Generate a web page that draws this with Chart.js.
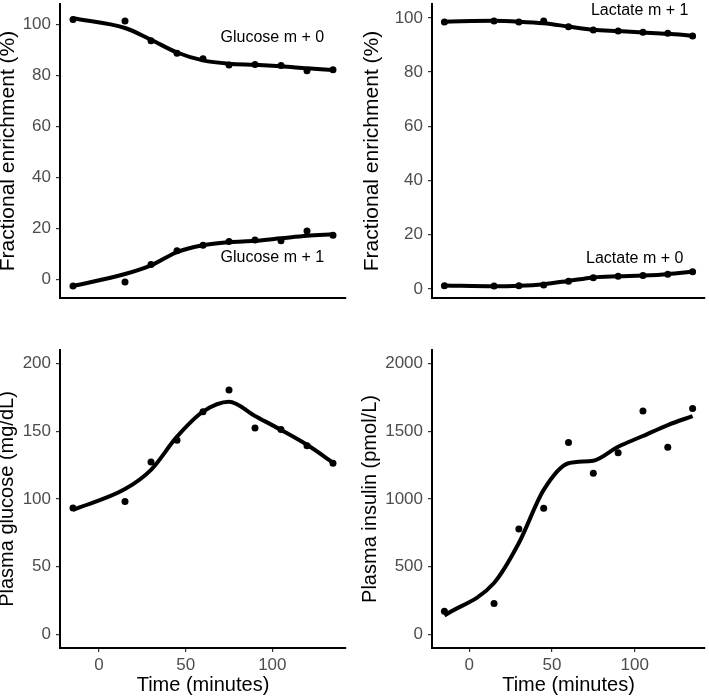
<!DOCTYPE html>
<html>
<head>
<meta charset="utf-8">
<script src="https://cdn.jsdelivr.net/npm/chart.js@4.4.1/dist/chart.umd.min.js"></script>
<style>
  html, body { margin: 0; padding: 0; background: #fff; }
  body { width: 709px; height: 696px; position: relative; overflow: hidden; }
  canvas { position: absolute; }
</style>
</head>
<body>
<canvas id="glucose-fe" width="355" height="330" style="left:0;top:0"></canvas>
<canvas id="lactate-fe" width="354" height="330" style="left:355px;top:0"></canvas>
<canvas id="plasma-glucose" width="355" height="366" style="left:0;top:330px"></canvas>
<canvas id="plasma-insulin" width="354" height="366" style="left:355px;top:330px"></canvas>
<script>
// sampling times (minutes)
const timeMin = [-15, 15, 30, 45, 60, 75, 90, 105, 120, 135];
const xTicks = [0, 50, 100];

// fractional enrichment (%), measured points and smooth fit
const glucoseM0 = [101.9, 101.3, 93.6, 88.7, 86.5, 84.1, 84.3, 83.9, 81.8, 82.2];
const glucoseM0Fit = [102.4, 98.6, 94.0, 89.0, 85.9, 84.6, 84.2, 83.6, 82.8, 82.1];
const glucoseM1 = [-2.5, -0.9, 5.9, 11.3, 13.5, 14.9, 15.5, 15.2, 19.1, 17.4];
const glucoseM1Fit = [-2.5, 2.2, 5.6, 10.8, 13.5, 14.7, 15.2, 16.2, 17.2, 17.8];
const lactateM1 = [98.5, 98.8, 98.5, 98.8, 96.7, 95.5, 95.1, 94.7, 94.3, 93.3];
const lactateM1Fit = [98.6, 98.9, 98.6, 98.0, 96.8, 95.6, 95.1, 94.6, 94.1, 93.4];
const lactateM0 = [1.2, 1.1, 1.2, 1.5, 2.9, 4.2, 4.7, 5.0, 5.5, 6.4];
const lactateM0Fit = [1.3, 1.0, 1.2, 1.8, 3.0, 4.3, 4.7, 5.0, 5.5, 6.4];
const enrichTicks = [0, 20, 40, 60, 80, 100];

// plasma glucose (mg/dL)
const plasmaGlucose = [93.3, 98.2, 127.4, 143.3, 164.5, 180.4, 152.4, 151.4, 139.4, 126.4];
const plasmaGlucoseFit = [92.0, 107.3, 121.5, 146.0, 164.5, 171.8, 161.3, 151.0, 140.0, 126.9];
const glucoseTicks = [0, 50, 100, 150, 200];

// plasma insulin (pmol/L)
const plasmaInsulin = [171, 228, 778, 932, 1418, 1190, 1342, 1649, 1382, 1669];
const plasmaInsulinFit = [140, 380, 675, 1067, 1264, 1283, 1386, 1465, 1546, 1612];
const insulinTicks = [0, 500, 1000, 1500, 2000];

const FONT = "'Liberation Sans', Arial, sans-serif";

const toPoints = ys => timeMin.map((t, i) => ({ x: t, y: ys[i] }));

// text annotations placed in data units
const textLabels = {
  id: 'textLabels',
  afterDatasetsDraw(chart) {
    const items = chart.options.plugins.textLabels.items || [];
    const ctx = chart.ctx;
    ctx.save();
    ctx.font = '16px ' + FONT;
    ctx.fillStyle = '#000';
    ctx.textAlign = 'center';
    ctx.textBaseline = 'middle';
    items.forEach(it => {
      ctx.fillText(it.text, chart.scales.x.getPixelForValue(it.x), chart.scales.y.getPixelForValue(it.y));
    });
    ctx.restore();
  }
};

function makePanel(id, cfg) {
  const datasets = [];
  cfg.series.forEach(s => {
    datasets.push({
      data: toPoints(s.fit), showLine: true, borderColor: '#000', borderWidth: 4,
      pointRadius: 0, cubicInterpolationMode: 'monotone', fill: false
    });
    datasets.push({
      data: toPoints(s.pts), pointRadius: 3.5, pointBackgroundColor: '#000',
      pointBorderWidth: 0, showLine: false
    });
  });

  new Chart(document.getElementById(id), {
    type: 'scatter',
    data: { datasets },
    options: {
      responsive: false,
      animation: false,
      layout: { padding: { left: 0, top: cfg.padTop, right: cfg.padRight, bottom: 0 } },
      plugins: {
        legend: { display: false },
        tooltip: { enabled: false },
        textLabels: { items: cfg.labels || [] }
      },
      scales: {
        x: {
          type: 'linear', min: -22.5, max: 142.5,
          afterBuildTicks: s => { s.ticks = xTicks.map(v => ({ value: v })); },
          afterFit: s => { s.height = cfg.xHeight; s.paddingLeft = 0; s.paddingRight = 0; },
          border: { display: true, color: '#000', width: 2 },
          grid: { display: cfg.showX, drawOnChartArea: false, drawTicks: cfg.showX, tickLength: 4, color: '#333', lineWidth: 1.2 },
          ticks: { display: cfg.showX, color: '#4d4d4d', padding: 3, font: { family: FONT, size: 17 }, callback: v => String(v) },
          title: {
            display: cfg.showX, text: 'Time (minutes)', color: '#000',
            font: { family: FONT, size: 20, lineHeight: 0.76 }, padding: { top: 0, bottom: 2.5 }
          }
        },
        y: {
          min: cfg.yMin, max: cfg.yMax,
          afterBuildTicks: s => { s.ticks = cfg.yTicks.map(v => ({ value: v })); },
          afterFit: s => { s.width = cfg.yWidth; s.paddingTop = 0; s.paddingBottom = 0; },
          border: { display: true, color: '#000', width: 2 },
          grid: { drawOnChartArea: false, drawTicks: true, tickLength: 4, color: '#333', lineWidth: 1.2 },
          ticks: { color: '#4d4d4d', padding: 5, font: { family: FONT, size: 17 }, callback: v => String(v) },
          title: {
            display: true, text: cfg.yTitle, color: '#000',
            font: { family: FONT, size: cfg.titleSize, lineHeight: 0.76 },
            padding: { top: cfg.titlePad, bottom: 0 }
          }
        }
      }
    },
    plugins: [textLabels]
  });
}

makePanel('glucose-fe', {
  series: [{ pts: glucoseM0, fit: glucoseM0Fit }, { pts: glucoseM1, fit: glucoseM1Fit }],
  labels: [{ text: 'Glucose m + 0', x: 100, y: 95 }, { text: 'Glucose m + 1', x: 100, y: 8.5 }],
  yMin: -7.2, yMax: 108, yTicks: enrichTicks, yTitle: 'Fractional enrichment (%)',
  titleSize: 21, titlePad: 0, yWidth: 60, padTop: 0, padRight: 9, xHeight: 32, showX: false
});

makePanel('lactate-fe', {
  series: [{ pts: lactateM1, fit: lactateM1Fit }, { pts: lactateM0, fit: lactateM0Fit }],
  labels: [{ text: 'Lactate m + 1', x: 103, y: 102.5 }, { text: 'Lactate m + 0', x: 100, y: 11.4 }],
  yMin: -3.3, yMax: 105.1, yTicks: enrichTicks, yTitle: 'Fractional enrichment (%)',
  titleSize: 21, titlePad: 9, yWidth: 77, padTop: 0, padRight: 1, xHeight: 32, showX: false
});

makePanel('plasma-glucose', {
  series: [{ pts: plasmaGlucose, fit: plasmaGlucoseFit }],
  yMin: -10, yMax: 210, yTicks: glucoseTicks, yTitle: 'Plasma glucose (mg/dL)',
  titleSize: 20, titlePad: 0, yWidth: 60, padTop: 20, padRight: 9, xHeight: 48, showX: true
});

makePanel('plasma-insulin', {
  series: [{ pts: plasmaInsulin, fit: plasmaInsulinFit }],
  yMin: -100, yMax: 2100, yTicks: insulinTicks, yTitle: 'Plasma insulin (pmol/L)',
  titleSize: 20, titlePad: 8, yWidth: 77, padTop: 20, padRight: 1, xHeight: 48, showX: true
});
</script>
</body>
</html>
